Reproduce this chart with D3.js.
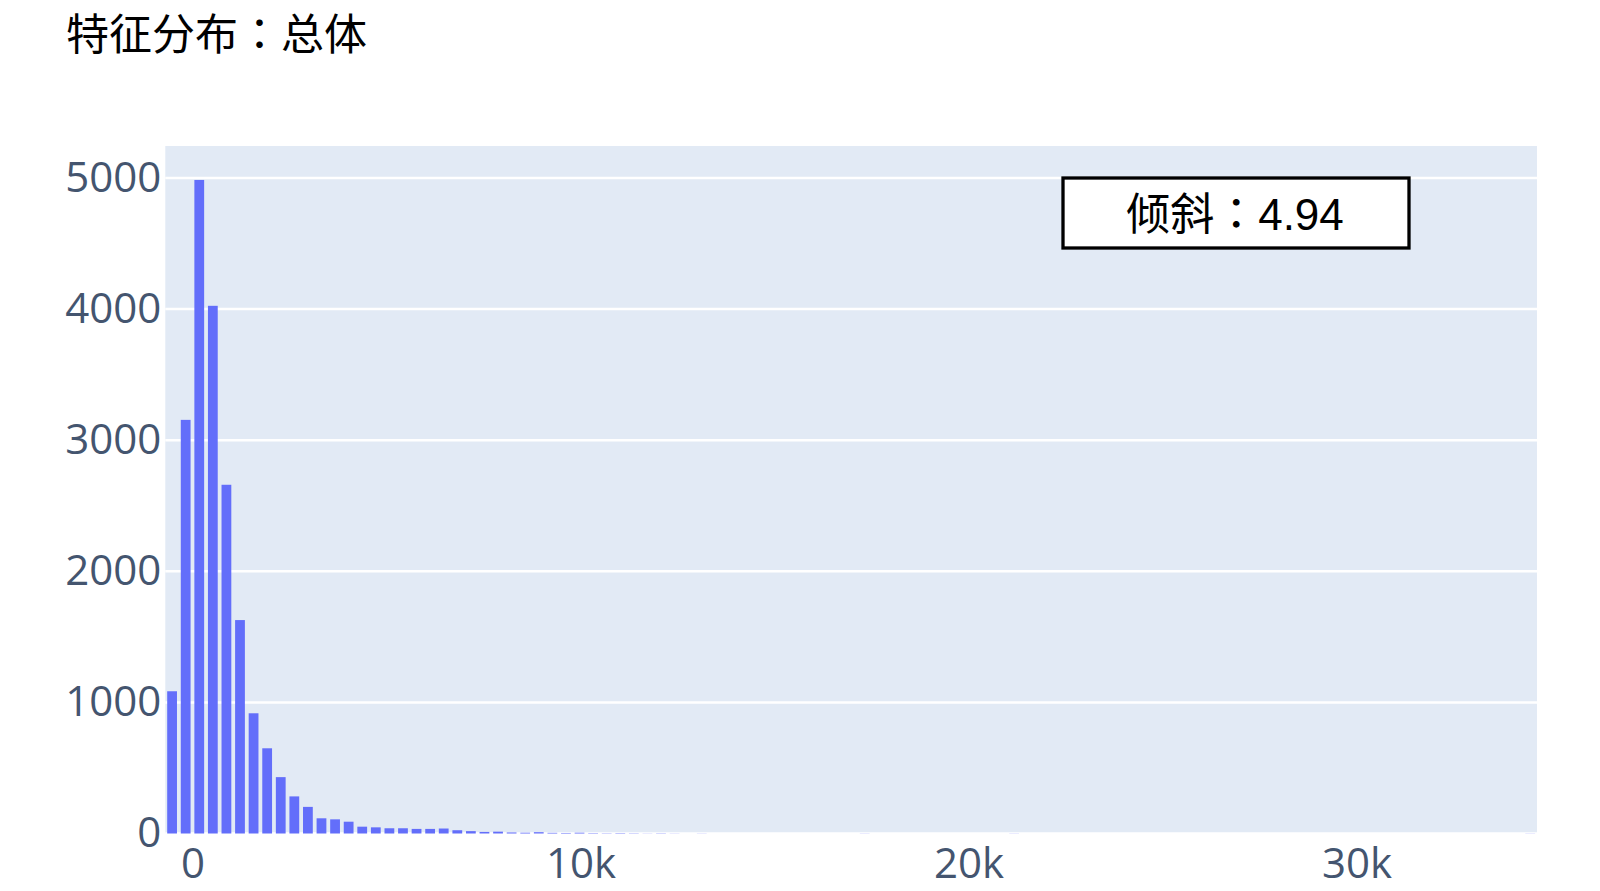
<!DOCTYPE html>
<html>
<head>
<meta charset="utf-8">
<script src="https://cdn.jsdelivr.net/npm/d3@7"></script>
<style>
    body { margin: 0; background: #fff; }
</style>
</head>
<body>
<div id="chart"></div>
<script>
// histogram data
var titleParts = ["特征分布", "：", "总体"];
var skewParts = ["倾斜", "：", "4.94"];
var binStart = -700;
var binWidth = 350;
var counts = [1085, 3155, 4985, 4025, 2660, 1628, 917, 650, 430, 283,
              203, 116, 108, 90, 52, 47, 40, 40, 35, 35,
              38, 25, 18, 12, 14, 8, 6, 10, 5, 4,
              6, 3, 2, 3, 2, 1, 2, 1, 0, 1];
// a few lone outliers far out in the tail
var tailStarts = [17150, 21000, 34300];
var tailCounts = [1, 1, 1];
var xTicks = [0, 10000, 20000, 30000];
var xTickLabels = ["0", "10k", "20k", "30k"];
var yTicks = [0, 1000, 2000, 3000, 4000, 5000];

document.addEventListener('DOMContentLoaded', function () {
    var width = 1600, height = 891;
    var plot = { left: 165.3, right: 1537, top: 146, bottom: 833.5 };

    var bins = counts.map(function(c, i) {
        return { x0: binStart + i * binWidth, count: c };
    });
    tailStarts.forEach(function(s, i) {
        bins.push({ x0: s, count: tailCounts[i] });
    });

    var x = d3.scaleLinear()
        .domain([-700, 34650])
        .range([plot.left, plot.right]);

    var y = d3.scaleLinear()
        .domain([0, 5244])
        .range([plot.bottom, plot.top]);

    var svg = d3.select("#chart")
        .append("svg")
        .attr("width", width)
        .attr("height", height);

    // the colon gets the TC face so it sits centred in its cell
    function mixedText(sel, parts) {
        sel.selectAll("tspan")
            .data(parts)
            .enter().append("tspan")
            .attr("font-family", function(d, i) {
                return i === 1 ? "'Noto Sans CJK TC', sans-serif" : null;
            })
            .text(function(d) { return d; });
    }

    var title = svg.append("text")
        .attr("x", 66)
        .attr("y", 50)
        .attr("font-family", "'Noto Sans CJK SC', sans-serif")
        .attr("font-size", 43)
        .attr("fill", "#000");
    mixedText(title, titleParts);

    svg.append("rect")
        .attr("x", plot.left)
        .attr("y", plot.top)
        .attr("width", plot.right - plot.left)
        .attr("height", plot.bottom - plot.top)
        .attr("fill", "#e2eaf5");

    // horizontal grid
    svg.append("g")
        .selectAll("line")
        .data(yTicks)
        .enter().append("line")
        .attr("x1", plot.left)
        .attr("x2", plot.right)
        .attr("y1", function(d) { return y(d); })
        .attr("y2", function(d) { return y(d); })
        .attr("stroke", "#fff")
        .attr("stroke-width", 2.5);

    var gap = 3.8;
    svg.append("g")
        .selectAll("rect")
        .data(bins)
        .enter().append("rect")
        .attr("x", function(d) { return x(d.x0) + gap / 2; })
        .attr("width", function(d) { return x(d.x0 + binWidth) - x(d.x0) - gap; })
        .attr("y", function(d) { return y(d.count); })
        .attr("height", function(d) { return y(0) - y(d.count); })
        .attr("fill", "#636efa");

    var yAxis = d3.axisLeft(y)
        .tickValues(yTicks)
        .tickSize(0)
        .tickPadding(4)
        .tickFormat(d3.format("d"));

    var yg = svg.append("g")
        .attr("transform", "translate(" + plot.left + ",0)")
        .call(yAxis);
    yg.select(".domain").remove();
    yg.selectAll("text")
        .attr("font-family", "'Open Sans', sans-serif")
        .attr("font-size", 42)
        .attr("fill", "#44556f");

    var xAxis = d3.axisBottom(x)
        .tickValues(xTicks)
        .tickSize(0)
        .tickPadding(15)
        .tickFormat(function(d, i) { return xTickLabels[i]; });

    var xg = svg.append("g")
        .attr("transform", "translate(0," + plot.bottom + ")")
        .call(xAxis);
    xg.select(".domain").remove();
    xg.selectAll("text")
        .attr("font-family", "'Open Sans', sans-serif")
        .attr("font-size", 42)
        .attr("fill", "#44556f");

    // skew annotation box
    var box = { x: 1063, y: 178, w: 346, h: 70 };
    svg.append("rect")
        .attr("x", box.x)
        .attr("y", box.y)
        .attr("width", box.w)
        .attr("height", box.h)
        .attr("fill", "#fff")
        .attr("stroke", "#000")
        .attr("stroke-width", 3.3);

    var skew = svg.append("text")
        .attr("x", box.x + box.w / 2 - 1)
        .attr("y", 230)
        .attr("text-anchor", "middle")
        .attr("font-family", "'Liberation Sans', 'Noto Sans CJK SC', sans-serif")
        .attr("font-size", 44)
        .attr("fill", "#000");
    mixedText(skew, skewParts);
});
</script>
</body>
</html>
